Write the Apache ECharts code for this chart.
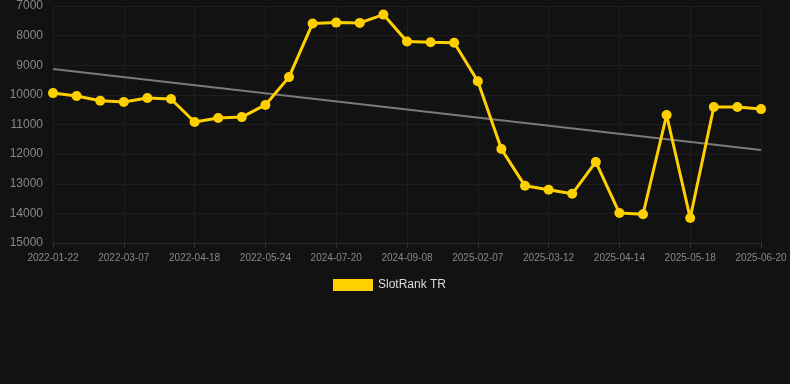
<!DOCTYPE html>
<html><head><meta charset="utf-8">
<script src="https://cdn.jsdelivr.net/npm/echarts@6/dist/echarts.min.js"></script>
<style>html,body{margin:0;padding:0;background:#121212;}#c{width:790px;height:384px;}</style>
</head><body><div id="c"></div>
<script>
const categories = ["2022-01-22","2022-02-05","2022-02-19","2022-03-07","2022-03-19","2022-04-02","2022-04-18","2022-04-30","2022-05-12","2022-05-24","2024-06-10","2024-06-28","2024-07-20","2024-08-05","2024-08-22","2024-09-08","2024-10-20","2024-12-15","2025-02-07","2025-02-18","2025-03-01","2025-03-12","2025-03-22","2025-04-03","2025-04-14","2025-04-25","2025-05-07","2025-05-18","2025-05-29","2025-06-09","2025-06-20"];
const rankValues = [9940,10040,10200,10240,10105,10140,10915,10780,10750,10340,9400,7590,7560,7570,7290,8200,8225,8240,9540,11830,13070,13200,13340,12265,13990,14030,10680,14155,10410,10410,10480];
const trendEnds = [9127, 11860];
const yTicks = {min:7000, max:15000, step:1000};
const trendData = categories.map((c,i)=> i===0 ? trendEnds[0] : (i===categories.length-1 ? trendEnds[1] : null));
const chart = echarts.init(document.getElementById('c'));
chart.setOption({
  backgroundColor:'#121212',
  animation:false,
  grid:{left:53,right:29,top:6,bottom:141},
  legend:{data:['SlotRank TR'],top:274,left:328,itemWidth:40,itemHeight:12,itemGap:10,icon:'rect',textStyle:{color:'#ddd',fontSize:12,fontFamily:'Arial, Liberation Sans, sans-serif'}},
  xAxis:{type:'category',data:categories,boundaryGap:false,
    axisLine:{lineStyle:{color:'#2a2a2a'}},
    axisTick:{show:true,interval:2,lineStyle:{color:'#333'}},
    axisLabel:{interval:2,color:'#888',fontSize:10,fontFamily:'Arial, Liberation Sans, sans-serif',margin:10},
    splitLine:{show:true,interval:2,lineStyle:{color:'#1e1e1e'}}},
  yAxis:{type:'value',inverse:true,min:yTicks.min,max:yTicks.max,interval:yTicks.step,
    axisLine:{show:false},axisTick:{show:false},
    axisLabel:{color:'#888',fontSize:12,fontFamily:'Arial, Liberation Sans, sans-serif',margin:10,formatter:v=>String(v)},
    splitLine:{lineStyle:{color:'#1e1e1e'}}},
  series:[
    {name:'Trend',type:'line',data:trendData,connectNulls:true,showSymbol:false,symbol:'none',
     lineStyle:{color:'#7a7a7a',width:2},z:1},
    {name:'SlotRank TR',type:'line',data:rankValues,symbol:'circle',symbolSize:10,
     itemStyle:{color:'#FFD000'},lineStyle:{color:'#FFD000',width:3},z:2}
  ]
});
</script></body></html>
